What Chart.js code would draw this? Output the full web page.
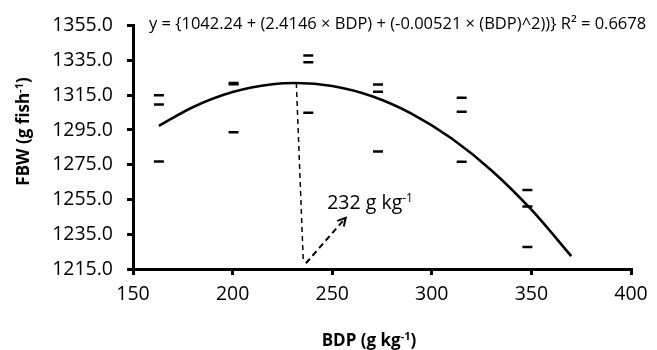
<!DOCTYPE html>
<html>
<head>
<meta charset="utf-8">
<script src="https://cdn.jsdelivr.net/npm/chart.js@4.4.1/dist/chart.umd.min.js"></script>
<style>
html,body{margin:0;padding:0;background:#fff;}
#wrap{width:657px;height:350px;position:relative;}
</style>
</head>
<body>
<div id="wrap"><canvas id="c" width="657" height="350"></canvas></div>
<script>
// ---- data ----
const bdpLevels = [163, 200.5, 238, 273, 315, 348];
const fbwRep1 = [1315.0, 1322.1, 1337.9, 1321.1, 1313.5, 1260.5];
const fbwRep2 = [1309.7, 1321.3, 1334.0, 1317.0, 1305.5, 1251.0];
const fbwRep3 = [1276.9, 1293.7, 1304.9, 1282.6, 1276.7, 1227.7];

// fitted curve
const curveBdp = [163, 180, 200, 220, 232, 250, 270, 290, 310, 330, 350, 370];
const curveFbw = [1297.4, 1308.1, 1316.8, 1321.3, 1322.0, 1320.3, 1314.4, 1304.3, 1290.1, 1271.7, 1249.1, 1222.4];

// optimum marker lines
const dropBdp = [232, 235.5];
const dropFbw = [1322.0, 1219.0];
const arrowBdp = [236.8, 256.8];
const arrowFbw = [1218.3, 1244.5];

const xTicks = [150, 200, 250, 300, 350, 400];
const yTicks = [1215, 1235, 1255, 1275, 1295, 1315, 1335, 1355];

const equationText = "y = {1042.24 + (2.4146 \u00d7 BDP) + (-0.00521 \u00d7 (BDP)^2))} R\u00b2 = 0.6678";
const optimumLabel = ["232 g kg", "-1"];
const xTitle = ["BDP (g kg", "-1", ")"];
const yTitle = ["FBW (g fish", "-1", ")"];
const optimumAt = {x: 247.5, y: 1249.5};

const FONT = "'Open Sans', 'Liberation Sans', sans-serif";

const points = [];
bdpLevels.forEach((b, i) => {
  points.push({x: b, y: fbwRep1[i]});
  points.push({x: b, y: fbwRep2[i]});
  points.push({x: b, y: fbwRep3[i]});
});
const curve = curveBdp.map((b, i) => ({x: b, y: curveFbw[i]}));
const drop = dropBdp.map((b, i) => ({x: b, y: dropFbw[i]}));
const arrow = arrowBdp.map((b, i) => ({x: b, y: arrowFbw[i]}));

function drawSupText(ctx, parts, x, y, size, bold, align) {
  const w = bold ? 'bold ' : '';
  const base = w + size + 'px ' + FONT;
  const sup = w + Math.round(size * 0.62) + 'px ' + FONT;
  ctx.font = base; const w0 = ctx.measureText(parts[0]).width;
  ctx.font = sup; const w1 = ctx.measureText(parts[1]).width;
  ctx.font = base; const w2 = parts[2] ? ctx.measureText(parts[2]).width : 0;
  const total = w0 + w1 + w2;
  let sx = align === 'center' ? x - total / 2 : x;
  ctx.textBaseline = 'alphabetic';
  ctx.textAlign = 'left';
  ctx.font = base; ctx.fillText(parts[0], sx, y);
  ctx.font = sup; ctx.fillText(parts[1], sx + w0, y - size * 0.38);
  if (parts[2]) { ctx.font = base; ctx.fillText(parts[2], sx + w0 + w1, y); }
}

const extras = {
  id: 'extras',
  afterDraw(chart) {
    const ctx = chart.ctx;
    const xs = chart.scales.x, ys = chart.scales.y;
    ctx.save();
    ctx.fillStyle = '#000';
    // arrow head
    const x1 = xs.getPixelForValue(arrowBdp[0]), y1 = ys.getPixelForValue(arrowFbw[0]);
    const x2 = xs.getPixelForValue(arrowBdp[1]), y2 = ys.getPixelForValue(arrowFbw[1]);
    const ang = Math.atan2(y2 - y1, x2 - x1);
    ctx.strokeStyle = '#000'; ctx.lineWidth = 2;
    ctx.beginPath();
    ctx.moveTo(x2 - 9 * Math.cos(ang - 0.5), y2 - 9 * Math.sin(ang - 0.5));
    ctx.lineTo(x2, y2);
    ctx.lineTo(x2 - 9 * Math.cos(ang + 0.5), y2 - 9 * Math.sin(ang + 0.5));
    ctx.stroke();
    // equation
    ctx.font = '16.5px ' + FONT;
    ctx.textAlign = 'left'; ctx.textBaseline = 'alphabetic';
    ctx.fillText(equationText, 149, 29);
    // optimum label
    drawSupText(ctx, optimumLabel, xs.getPixelForValue(optimumAt.x), ys.getPixelForValue(optimumAt.y), 19.5, false, 'left');
    // x title
    drawSupText(ctx, xTitle, 369, 346, 17, true, 'center');
    // y title
    ctx.translate(29, 131.5);
    ctx.rotate(-Math.PI / 2);
    drawSupText(ctx, yTitle, 0, 0, 17, true, 'center');
    ctx.restore();
  }
};

new Chart(document.getElementById('c'), {
  data: {
    datasets: [
      {type: 'line', data: curve, borderColor: '#000', borderWidth: 2.6, pointRadius: 0, tension: 0.4, cubicInterpolationMode: 'monotone', fill: false},
      {type: 'line', data: drop, borderColor: '#000', borderWidth: 1.5, borderDash: [5, 4], pointRadius: 0, fill: false},
      {type: 'line', data: arrow, borderColor: '#000', borderWidth: 2, borderDash: [6, 4], pointRadius: 0, fill: false},
      {type: 'scatter', data: points, pointStyle: 'line', pointRadius: 5, borderColor: '#000', borderWidth: 2.5, backgroundColor: '#000'}
    ]
  },
  options: {
    responsive: false,
    animation: false,
    layout: {padding: {left: 0, top: 23.5, right: 26, bottom: 0}},
    plugins: {legend: {display: false}, tooltip: {enabled: false}},
    scales: {
      x: {
        type: 'linear', min: 150, max: 400,
        afterBuildTicks: s => { s.ticks = xTicks.map(v => ({value: v})); },
        afterFit: s => { s.height = 81; },
        ticks: {color: '#000', font: {family: FONT, size: 19.5}, padding: 8},
        grid: {drawOnChartArea: false, drawTicks: true, tickLength: 6, color: '#000', lineWidth: 3},
        border: {display: true, color: '#000', width: 3}
      },
      y: {
        type: 'linear', min: 1215, max: 1355,
        afterBuildTicks: s => { s.ticks = yTicks.map(v => ({value: v})); },
        afterFit: s => { s.width = 133; },
        ticks: {color: '#000', font: {family: FONT, size: 19.5}, padding: 14, callback: v => Number(v).toFixed(1)},
        grid: {drawOnChartArea: false, drawTicks: true, tickLength: 6, color: '#000', lineWidth: 3},
        border: {display: true, color: '#000', width: 3}
      }
    }
  },
  plugins: [extras]
});
</script>
</body>
</html>
